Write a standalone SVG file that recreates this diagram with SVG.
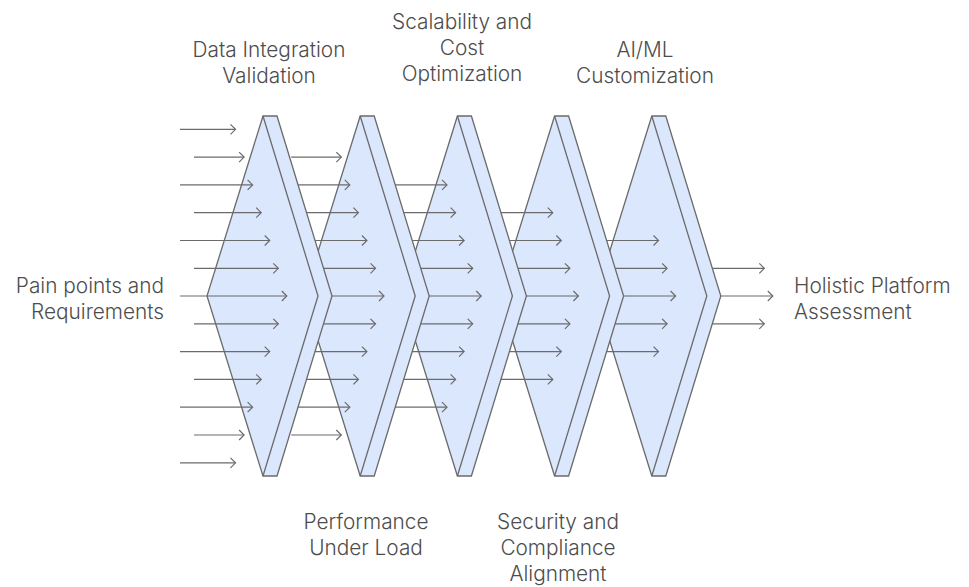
<svg xmlns="http://www.w3.org/2000/svg" width="969" height="587" viewBox="0 0 969 587">
<defs>
<style>
.chev{fill:#dbe7fd;stroke:#6b6b6b;stroke-width:1.3;stroke-linejoin:miter}
.edge{fill:none;stroke:#6b6b6b;stroke-width:1.3}
.lbl{font-family:Inter,"Liberation Sans",sans-serif;font-size:20.8px;font-weight:300;fill:#4d4d4d}
.c{text-anchor:middle}
.e{text-anchor:end}
.s{text-anchor:start}
#connectors line{stroke:#6b6b6b;stroke-width:1.2;marker-end:url(#ah)}
</style>
<marker id="ah" markerUnits="userSpaceOnUse" markerWidth="12" markerHeight="12" refX="6" refY="6" orient="auto">
<path d="M1,1 L6,6 L1,11" fill="none" stroke="#6b6b6b" stroke-width="1.2"/>
</marker>
</defs>
<rect width="969" height="587" fill="#fff"/>

<g id="stage5" transform="translate(651.8,0)">
<polygon class="chev" points="0,116 14,116 69,296 14,476 0,476 -56,296"/>
<path class="edge" d="M0,116 L55,296 L0,476"/>
</g>
<g id="stage4" transform="translate(554.6,0)">
<polygon class="chev" points="0,116 14,116 69,296 14,476 0,476 -56,296"/>
<path class="edge" d="M0,116 L55,296 L0,476"/>
</g>
<g id="stage3" transform="translate(457.4,0)">
<polygon class="chev" points="0,116 14,116 69,296 14,476 0,476 -56,296"/>
<path class="edge" d="M0,116 L55,296 L0,476"/>
</g>
<g id="stage2" transform="translate(360.2,0)">
<polygon class="chev" points="0,116 14,116 69,296 14,476 0,476 -56,296"/>
<path class="edge" d="M0,116 L55,296 L0,476"/>
</g>
<g id="stage1" transform="translate(263,0)">
<polygon class="chev" points="0,116 14,116 69,296 14,476 0,476 -56,296"/>
<path class="edge" d="M0,116 L55,296 L0,476"/>
</g>

<g id="connectors">
<line x1="180" y1="129.3" x2="235.5" y2="129.3"/>
<line x1="194" y1="157.1" x2="244.1" y2="157.1"/>
<line x1="180" y1="184.9" x2="252.6" y2="184.9"/>
<line x1="194" y1="212.7" x2="261.2" y2="212.7"/>
<line x1="180" y1="240.5" x2="269.7" y2="240.5"/>
<line x1="194" y1="268.3" x2="278.3" y2="268.3"/>
<line x1="180" y1="296" x2="286.8" y2="296"/>
<line x1="194" y1="323.8" x2="278.3" y2="323.8"/>
<line x1="180" y1="351.6" x2="269.7" y2="351.6"/>
<line x1="194" y1="379.4" x2="261.2" y2="379.4"/>
<line x1="180" y1="407.2" x2="252.6" y2="407.2"/>
<line x1="194" y1="435" x2="244.1" y2="435"/>
<line x1="180" y1="462.8" x2="235.5" y2="462.8"/>

<line x1="291.2" y1="157.1" x2="341.3" y2="157.1"/>
<line x1="298.1" y1="184.9" x2="349.8" y2="184.9"/>
<line x1="306.6" y1="212.7" x2="358.4" y2="212.7"/>
<line x1="315.1" y1="240.5" x2="366.9" y2="240.5"/>
<line x1="323.6" y1="268.3" x2="375.5" y2="268.3"/>
<line x1="331.9" y1="296" x2="384" y2="296"/>
<line x1="323.4" y1="323.8" x2="375.5" y2="323.8"/>
<line x1="314.9" y1="351.6" x2="366.9" y2="351.6"/>
<line x1="306.4" y1="379.4" x2="358.4" y2="379.4"/>
<line x1="297.9" y1="407.2" x2="349.8" y2="407.2"/>
<line x1="291.2" y1="435" x2="341.3" y2="435"/>

<line x1="395.3" y1="184.9" x2="447" y2="184.9"/>
<line x1="403.8" y1="212.7" x2="455.6" y2="212.7"/>
<line x1="412.3" y1="240.5" x2="464.1" y2="240.5"/>
<line x1="420.8" y1="268.3" x2="472.7" y2="268.3"/>
<line x1="429.1" y1="296" x2="481.2" y2="296"/>
<line x1="420.6" y1="323.8" x2="472.7" y2="323.8"/>
<line x1="412.1" y1="351.6" x2="464.1" y2="351.6"/>
<line x1="403.6" y1="379.4" x2="455.6" y2="379.4"/>
<line x1="395.1" y1="407.2" x2="447" y2="407.2"/>

<line x1="501" y1="212.7" x2="552.8" y2="212.7"/>
<line x1="509.5" y1="240.5" x2="561.3" y2="240.5"/>
<line x1="518" y1="268.3" x2="569.9" y2="268.3"/>
<line x1="526.3" y1="296" x2="578.4" y2="296"/>
<line x1="517.8" y1="323.8" x2="569.9" y2="323.8"/>
<line x1="509.3" y1="351.6" x2="561.3" y2="351.6"/>
<line x1="500.8" y1="379.4" x2="552.8" y2="379.4"/>

<line x1="606.7" y1="240.5" x2="658.5" y2="240.5"/>
<line x1="615.2" y1="268.3" x2="667.1" y2="268.3"/>
<line x1="623.5" y1="296" x2="675.6" y2="296"/>
<line x1="615" y1="323.8" x2="667.1" y2="323.8"/>
<line x1="606.5" y1="351.6" x2="658.5" y2="351.6"/>

<line x1="712.4" y1="268.3" x2="764.3" y2="268.3"/>
<line x1="720.7" y1="296" x2="772.8" y2="296"/>
<line x1="712.2" y1="323.8" x2="764.3" y2="323.8"/>
</g>

<g id="label-input">
<text class="lbl e" x="164" y="293">Pain points and</text>
<text class="lbl e" x="164" y="319">Requirements</text>
</g>
<g id="label-output">
<text class="lbl s" x="794" y="293">Holistic Platform</text>
<text class="lbl s" x="794" y="319">Assessment</text>
</g>
<g id="label-stage1">
<text class="lbl c" x="269" y="57">Data Integration</text>
<text class="lbl c" x="269" y="83">Validation</text>
</g>
<g id="label-stage2">
<text class="lbl c" x="366" y="529">Performance</text>
<text class="lbl c" x="366" y="555">Under Load</text>
</g>
<g id="label-stage3">
<text class="lbl c" x="462" y="29">Scalability and</text>
<text class="lbl c" x="462" y="55">Cost</text>
<text class="lbl c" x="462" y="81">Optimization</text>
</g>
<g id="label-stage4">
<text class="lbl c" x="558" y="529">Security and</text>
<text class="lbl c" x="558" y="555">Compliance</text>
<text class="lbl c" x="558" y="581">Alignment</text>
</g>
<g id="label-stage5">
<text class="lbl c" x="645" y="57">AI/ML</text>
<text class="lbl c" x="645" y="83">Customization</text>
</g>
</svg>
